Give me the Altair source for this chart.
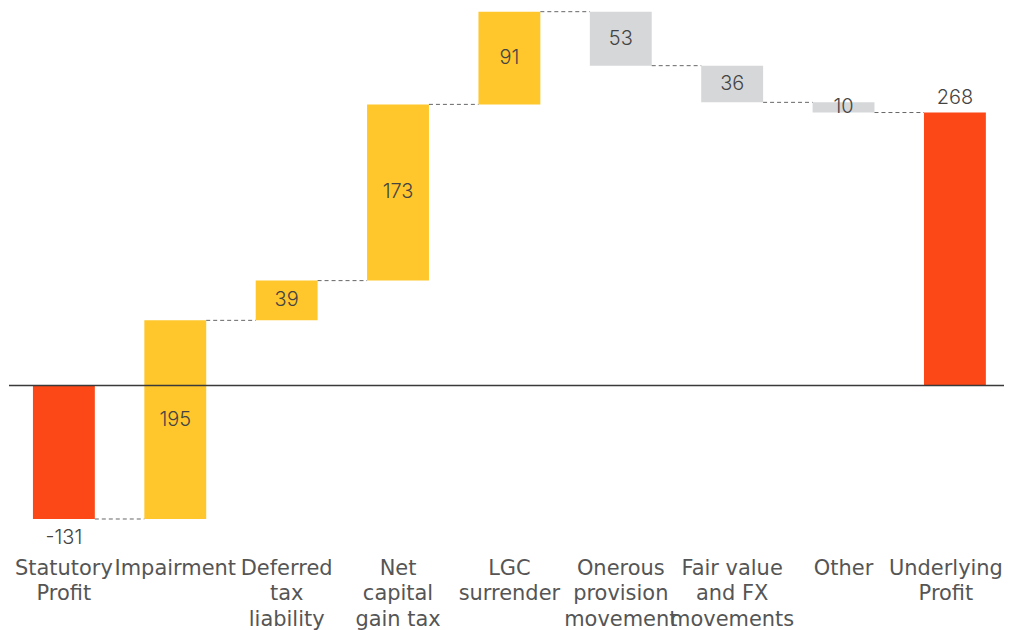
import altair as alt
import pandas as pd

categories = ["Statutory|Profit", "Impairment", "Deferred|tax|liability", "Net|capital|gain tax",
              "LGC|surrender", "Onerous|provision|movement", "Fair value|and FX|movements",
              "Other", "Underlying|Profit"]
values = [-131, 195, 39, 173, 91, -53, -36, -10, 268]
kinds = ["total", "up", "up", "up", "up", "down", "down", "down", "total"]

rows = []
running = 0
for c, v, k in zip(categories, values, kinds):
    if k == "total":
        start, end = 0, v
        running = v
    else:
        start = running
        end = running + v
        running = end
    if k == "total":
        lab_y = end
        lab_pos = "below" if v < 0 else "above"
    else:
        lab_y = (start + end) / 2
        lab_pos = "mid"
    rows.append(dict(cat=c, start=start, end=end, kind=k, label=str(v) if k == "total" else str(abs(v)),
                     lab_y=lab_y, pos=lab_pos))
df = pd.DataFrame(rows)

conn = pd.DataFrame([dict(cat=categories[i], cat2=categories[i + 1], level=rows[i]["end"])
                     for i in range(len(categories) - 1)])

AXIS_FONT = "DejaVu Sans"
VAL_FONT = "Inter"
xscale = alt.Scale(domain=categories, paddingInner=0.4444, paddingOuter=0.189, align=0.569)
yscale = alt.Scale(domain=[-160, 370], nice=False, zero=False)

x = alt.X("cat:N", sort=categories, scale=xscale,
          axis=alt.Axis(title=None, labelExpr="split(datum.label, '|')", labelAngle=0,
                        labelFontSize=21, labelFont=AXIS_FONT, labelColor="#555555",
                        labelLineHeight=25.5, labelPadding=9, ticks=False, domain=False,
                        labelBaseline="top",
                        labelOffset={"condition": {"test": "datum.value == 'Underlying|Profit'",
                                                   "value": -9}, "value": 0}))
y = alt.Y("start:Q", scale=yscale, axis=None)

bars = alt.Chart(df).mark_bar().encode(
    x=x, y=y, y2="end:Q",
    color=alt.Color("kind:N", scale=alt.Scale(domain=["total", "up", "down"],
                                              range=["#FC4716", "#FFC72C", "#D6D7D9"]), legend=None),
)

zero = alt.Chart(pd.DataFrame({"v": [0]})).mark_rule(color="#3a3a3a", strokeWidth=1.6).encode(
    y=alt.Y("v:Q", scale=yscale, axis=None))

connectors = alt.Chart(conn).mark_rule(color="#666666", strokeWidth=1, strokeDash=[4, 3]).encode(
    x=alt.X("cat:N", sort=categories, scale=xscale, bandPosition=1),
    x2=alt.X2("cat2:N", bandPosition=0),
    y=alt.Y("level:Q", scale=yscale, axis=None),
)

text_common = dict(font=VAL_FONT, fontSize=20, fontWeight=300, color="#444444")
mid_text = alt.Chart(df).transform_filter("datum.pos == 'mid'").mark_text(
    baseline="middle", **text_common).encode(
    x=alt.X("cat:N", sort=categories, scale=xscale),
    y=alt.Y("lab_y:Q", scale=yscale, axis=None), text="label:N")
below_text = alt.Chart(df).transform_filter("datum.pos == 'below'").mark_text(
    baseline="middle", dy=19, **text_common).encode(
    x=alt.X("cat:N", sort=categories, scale=xscale),
    y=alt.Y("lab_y:Q", scale=yscale, axis=None), text="label:N")
above_text = alt.Chart(df).transform_filter("datum.pos == 'above'").mark_text(
    baseline="middle", dy=-15, **text_common).encode(
    x=alt.X("cat:N", sort=categories, scale=xscale),
    y=alt.Y("lab_y:Q", scale=yscale, axis=None), text="label:N")

chart = alt.layer(bars, zero, connectors, mid_text, below_text, above_text).properties(
    width=997, height=541, padding=0
).configure_view(stroke="transparent", strokeWidth=0)

chart.save("out.html", embed_options={"renderer": "svg", "actions": False})
